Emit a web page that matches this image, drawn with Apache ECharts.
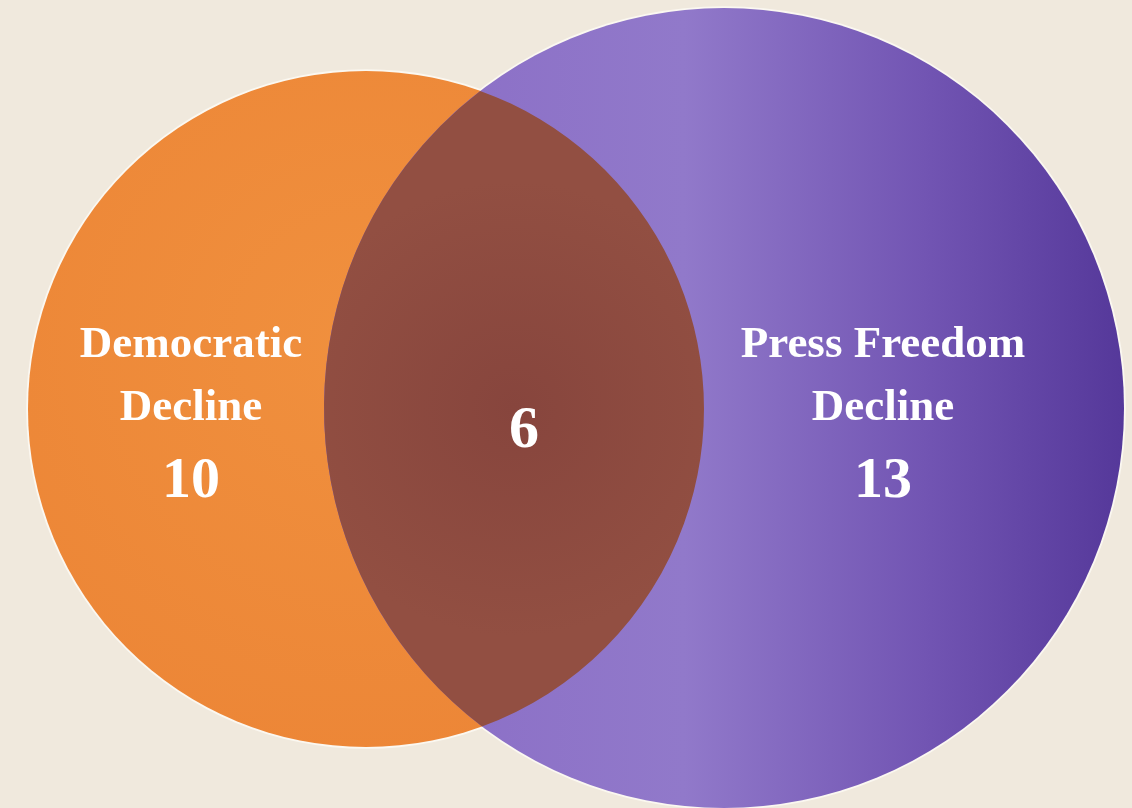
<!DOCTYPE html>
<html><head><meta charset="utf-8">
<script src="https://cdn.jsdelivr.net/npm/echarts@6/dist/echarts.min.js"></script>
<style>html,body{margin:0;padding:0;background:#f0e9dd;}#c{width:1132px;height:808px;}</style>
</head><body><div id="c"></div>
<script>
// ---- data ----
const setNames = ['Democratic\nDecline', 'Press Freedom\nDecline'];
const setOnlyCounts = [10, 13];
const overlapCount = 6;

// ---- layout (axis units, 1 unit = 1 px) ----
const layout = {
  circles: [{ cx: 366, cy: 409, r: 338 }, { cx: 724, cy: 408, r: 400 }],
  nameCenter: [[191, 377], [883, 377]],
  countCenter: [[191, 482], [883, 482]],
  overlapCenter: [524, 431]
};

const chart = echarts.init(document.getElementById('c'), null, { renderer: 'canvas' });
const G = echarts.graphic;
const fills = [
  new G.RadialGradient(0.5, 0.4, 0.7, [
    { offset: 0, color: '#f0903e' }, { offset: 1, color: '#ec8536' }]),
  new G.LinearGradient(0, 0, 1, 0, [
    { offset: 0, color: '#896bc5' }, { offset: 0.45, color: '#9179ca' },
    { offset: 0.75, color: '#7255b3' }, { offset: 1, color: '#55389a' }])
];
const font = '"Liberation Serif", "Times New Roman", serif';

function px(api, c) {
  const p = api.coord([c.cx, c.cy]);
  const r = api.size([c.r, 0])[0];
  return { x: p[0], y: p[1], r: r };
}

chart.setOption({
  animation: false,
  backgroundColor: '#f0e9dd',
  grid: { left: 0, right: 0, top: 0, bottom: 0 },
  xAxis: { type: 'value', min: 0, max: 1132, show: false },
  yAxis: { type: 'value', min: 0, max: 808, inverse: true, show: false },
  series: [
    {
      // light rims under both discs
      type: 'custom', coordinateSystem: 'cartesian2d', z: 1,
      data: setOnlyCounts.map((v, i) => [i, v]),
      renderItem: function (params, api) {
        const c = px(api, layout.circles[api.value(0)]);
        return { type: 'circle', shape: { cx: c.x, cy: c.y, r: c.r + 1.8 },
          style: { fill: '#fbf8f1' } };
      }
    },
    {
      type: 'custom', coordinateSystem: 'cartesian2d', z: 2,
      data: setOnlyCounts.map((v, i) => [i, v]),
      renderItem: function (params, api) {
        const i = api.value(0);
        const c = px(api, layout.circles[i]);
        return {
          type: 'circle', shape: { cx: c.x, cy: c.y, r: c.r },
          style: { fill: fills[i] }
        };
      }
    },
    {
      type: 'custom', coordinateSystem: 'cartesian2d', z: 3,
      data: [[0, overlapCount]],
      renderItem: function (params, api) {
        const a = px(api, layout.circles[0]);
        const b = px(api, layout.circles[1]);
        const dx = b.x - a.x, dy = b.y - a.y;
        const d = Math.sqrt(dx * dx + dy * dy);
        const t = (a.r * a.r - b.r * b.r + d * d) / (2 * d);
        const h = Math.sqrt(a.r * a.r - t * t);
        const mx = a.x + t * dx / d, my = a.y + t * dy / d;
        const ux = -dy / d, uy = dx / d;
        const p1 = [mx - h * ux, my - h * uy];
        const p2 = [mx + h * ux, my + h * uy];
        const top = p1[1] < p2[1] ? p1 : p2, bot = p1[1] < p2[1] ? p2 : p1;
        const path = 'M' + top[0] + ' ' + top[1] +
          ' A' + a.r + ' ' + a.r + ' 0 0 1 ' + bot[0] + ' ' + bot[1] +
          ' A' + b.r + ' ' + b.r + ' 0 0 1 ' + top[0] + ' ' + top[1] + ' Z';
        return {
          type: 'path', shape: { pathData: path },
          style: {
            fill: new G.RadialGradient(0.5, 0.5, 0.6, [
              { offset: 0, color: '#87453d' }, { offset: 1, color: '#924f42' }])
          }
        };
      }
    },
    {
      type: 'custom', coordinateSystem: 'cartesian2d', z: 5,
      data: setOnlyCounts.map((v, i) => [i, v]),
      renderItem: function (params, api) {
        const i = api.value(0);
        const pn = api.coord(layout.nameCenter[i]), pk = api.coord(layout.countCenter[i]);
        return {
          type: 'group', children: [
            { type: 'text', style: { x: pn[0], y: pn[1], text: setNames[i], fill: '#ffffff',
                font: 'bold 45px ' + font, lineHeight: 63, align: 'center', verticalAlign: 'middle' } },
            { type: 'text', style: { x: pk[0], y: pk[1], text: String(api.value(1)), fill: '#ffffff',
                font: 'bold 58px ' + font, align: 'center', verticalAlign: 'middle' } }
          ]
        };
      }
    },
    {
      type: 'custom', coordinateSystem: 'cartesian2d', z: 5,
      data: [[0, overlapCount]],
      renderItem: function (params, api) {
        const p = api.coord(layout.overlapCenter);
        return { type: 'text', style: { x: p[0], y: p[1], text: String(api.value(1)), fill: '#ffffff',
          font: 'bold 60px ' + font, align: 'center', verticalAlign: 'middle' } };
      }
    }
  ]
});
</script></body></html>
